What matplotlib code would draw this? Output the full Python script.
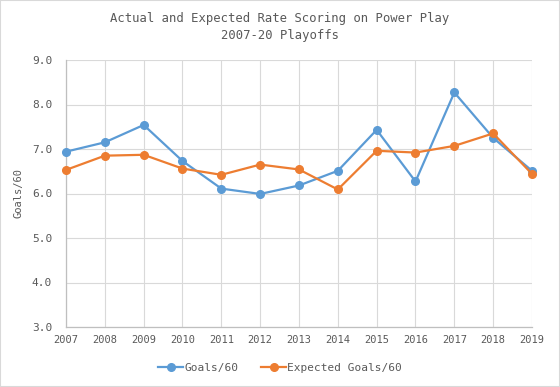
import numpy as np
import matplotlib.pyplot as plt
from matplotlib.patches import Rectangle

years = [2007, 2008, 2009, 2010, 2011, 2012, 2013, 2014, 2015, 2016, 2017, 2018, 2019]
goals_60 = [6.94, 7.15, 7.54, 6.73, 6.11, 5.99, 6.18, 6.51, 7.43, 6.27, 8.27, 7.25, 6.51]
xgoals_60 = [6.53, 6.85, 6.87, 6.56, 6.42, 6.65, 6.54, 6.09, 6.96, 6.92, 7.07, 7.35, 6.44]
y_ticks = [3.0, 4.0, 5.0, 6.0, 7.0, 8.0, 9.0]

plt.rcParams['font.family'] = ['DejaVu Sans Mono']
text_color = '#595959'

fig = plt.figure(figsize=(5.6, 3.87), dpi=100)
ax = fig.add_axes([66 / 560, 1 - 327 / 387, (532 - 66) / 560, (327 - 60) / 387])

ax.plot(years, goals_60, color='#5B9BD5', lw=1.6, marker='o', markersize=5.5,
        label="Goals/60", clip_on=False, zorder=3)
ax.plot(years, xgoals_60, color='#ED7D31', lw=1.6, marker='o', markersize=5.5,
        label="Expected Goals/60", clip_on=False, zorder=3)

ax.set_xlim(2007, 2019)
ax.set_ylim(3.0, 9.0)
ax.set_xticks(years)
ax.set_xticklabels([str(y) for y in years])
ax.set_yticks(y_ticks)
ax.set_yticklabels([f"{v:.1f}" for v in y_ticks])
ax.grid(True, color='#d9d9d9', lw=0.8)
ax.set_axisbelow(True)
ax.tick_params(axis='x', length=0, colors=text_color, labelsize=7.5, pad=6)
ax.tick_params(axis='y', length=0, colors=text_color, labelsize=8, pad=10)
for side in ['top', 'right']:
    ax.spines[side].set_visible(False)
for side in ['left', 'bottom']:
    ax.spines[side].set_color('#bfbfbf')
    ax.spines[side].set_linewidth(0.9)

ax.set_ylabel("Goals/60", color=text_color, fontsize=7.5, labelpad=6)

fig.text(0.5, 1 - 27 / 387, "Actual and Expected Rate Scoring on Power Play\n2007-20 Playoffs",
         ha='center', va='center', color=text_color, fontsize=8.8, linespacing=1.45)

fig.legend(loc='center', bbox_to_anchor=(0.5, 1 - 368 / 387), ncol=2, frameon=False,
           fontsize=8, labelcolor=text_color, handlelength=2.3, handletextpad=0.1,
           columnspacing=2)

fig.patches.append(Rectangle((0, 0), 1, 1, transform=fig.transFigure, fill=False,
                             edgecolor='#d9d9d9', lw=1.5))

fig.savefig("out.png", dpi=100)
